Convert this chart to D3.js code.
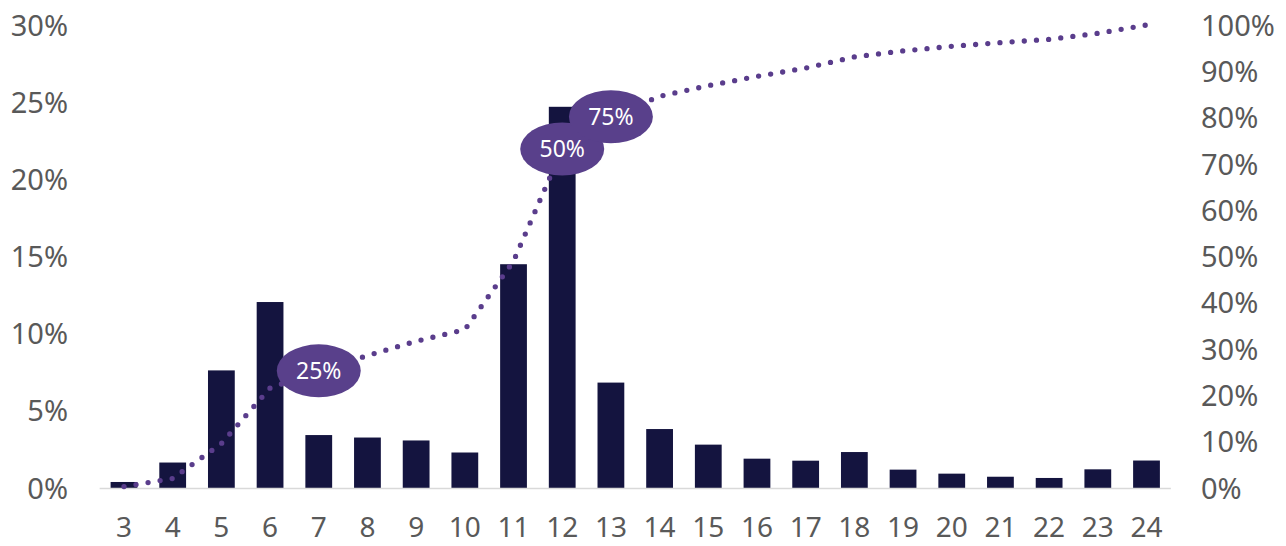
<!DOCTYPE html>
<html>
<head>
<meta charset="utf-8">
<script src="https://cdn.jsdelivr.net/npm/d3@7"></script>
<style>
  html, body { margin: 0; padding: 0; background: #ffffff; }
  svg { display: block; font-family: "Noto Sans", "Open Sans", sans-serif; }
</style>
</head>
<body>
<svg id="chart" width="1286" height="546"></svg>
<script>
// ---- data ----
const categories = ["3","4","5","6","7","8","9","10","11","12","13","14","15","16","17","18","19","20","21","22","23","24"];
const shareValues = [0.39, 1.65, 7.62, 12.05, 3.43, 3.27, 3.08, 2.3, 14.5, 24.7, 6.83, 3.82, 2.81, 1.9, 1.77, 2.33, 1.19, 0.93, 0.73, 0.65, 1.21, 1.78];
const cumulativeValues = [0.3, 2.05, 9.6, 21.6, 25.3, 28.6, 31.7, 34.2, 49.0, 73.2, 80.2, 84.6, 86.9, 88.9, 90.7, 93.1, 94.4, 95.4, 96.2, 96.9, 98.2, 100];
const leftTicks = [0, 5, 10, 15, 20, 25, 30];
const rightTicks = [0, 10, 20, 30, 40, 50, 60, 70, 80, 90, 100];
const quartileMarkers = [
  { category: "7", label: "25%" },
  { category: "13", label: "75%" },
  { category: "12", label: "50%" }
];

// ---- layout ----
const svg = d3.select("#chart");
const plotTop = 25, plotBottom = 488, plotLeft = 99.65, plotRight = 1170.85;
const textColor = "#595959";

const x = d3.scaleBand().domain(categories).range([plotLeft, plotRight]).paddingInner(0.45).paddingOuter(0.225);
const yLeft = d3.scaleLinear().domain([0, 30]).range([plotBottom, plotTop]);
const yRight = d3.scaleLinear().domain([0, 100]).range([plotBottom, plotTop]);

// bars
svg.append("g").selectAll("rect")
  .data(categories.map((c, i) => ({ c, v: shareValues[i] })))
  .join("rect")
  .attr("x", d => x(d.c))
  .attr("width", x.bandwidth())
  .attr("y", d => yLeft(d.v))
  .attr("height", d => yLeft(0) - yLeft(d.v))
  .attr("fill", "#14143f");

// baseline
svg.append("line")
  .attr("x1", plotLeft).attr("x2", plotRight)
  .attr("y1", yLeft(0) + 0.5).attr("y2", yLeft(0) + 0.5)
  .attr("stroke", "#d9d9d9").attr("stroke-width", 1.5);

// left axis
const leftAxis = d3.axisLeft(yLeft).tickValues(leftTicks).tickFormat(d => d + "%").tickSize(0).tickPadding(0);
const gL = svg.append("g").attr("transform", "translate(68,0)").call(leftAxis);
gL.select(".domain").remove();
gL.selectAll("text").attr("font-size", 29).attr("fill", textColor).attr("font-family", "Noto Sans").attr("dy", "0.35em");

// right axis
const rightAxis = d3.axisRight(yRight).tickValues(rightTicks).tickFormat(d => d + "%").tickSize(0).tickPadding(0);
const gR = svg.append("g").attr("transform", "translate(1201,0)").call(rightAxis);
gR.select(".domain").remove();
gR.selectAll("text").attr("font-size", 29).attr("fill", textColor).attr("font-family", "Noto Sans").attr("dy", "0.35em");

// bottom axis
const bottomAxis = d3.axisBottom(x).tickSize(0).tickPadding(0);
const gB = svg.append("g").attr("transform", "translate(0,537)").call(bottomAxis);
gB.select(".domain").remove();
gB.selectAll("text").attr("y", 0).attr("font-size", 28).attr("fill", textColor).attr("font-family", "Noto Sans").attr("dy", "0");

// cumulative dotted line
const cx = c => x(c) + x.bandwidth() / 2;
const line = d3.line().x(d => cx(d.c)).y(d => yRight(d.v));
svg.append("path")
  .datum(categories.map((c, i) => ({ c, v: cumulativeValues[i] })))
  .attr("d", line)
  .attr("fill", "none")
  .attr("stroke", "#5a3d8c")
  .attr("stroke-width", 5.3)
  .attr("stroke-linecap", "round")
  .attr("stroke-dasharray", "0 12.2");

// quartile bubbles
const bub = svg.append("g").selectAll("g")
  .data(quartileMarkers)
  .join("g")
  .attr("transform", d => {
    const i = categories.indexOf(d.category);
    return `translate(${cx(d.category)},${yRight(cumulativeValues[i])})`;
  });
bub.append("ellipse").attr("rx", 42).attr("ry", 26.5).attr("fill", "#59408b");
bub.append("text")
  .attr("text-anchor", "middle")
  .attr("dy", "0.36em")
  .attr("fill", "#ffffff")
  .attr("font-size", 23)
  .attr("font-family", "Noto Sans")
  .text(d => d.label);
// draw order: 50% below 75%
bub.filter(d => d.label === "50%").lower();
</script>
</body>
</html>
